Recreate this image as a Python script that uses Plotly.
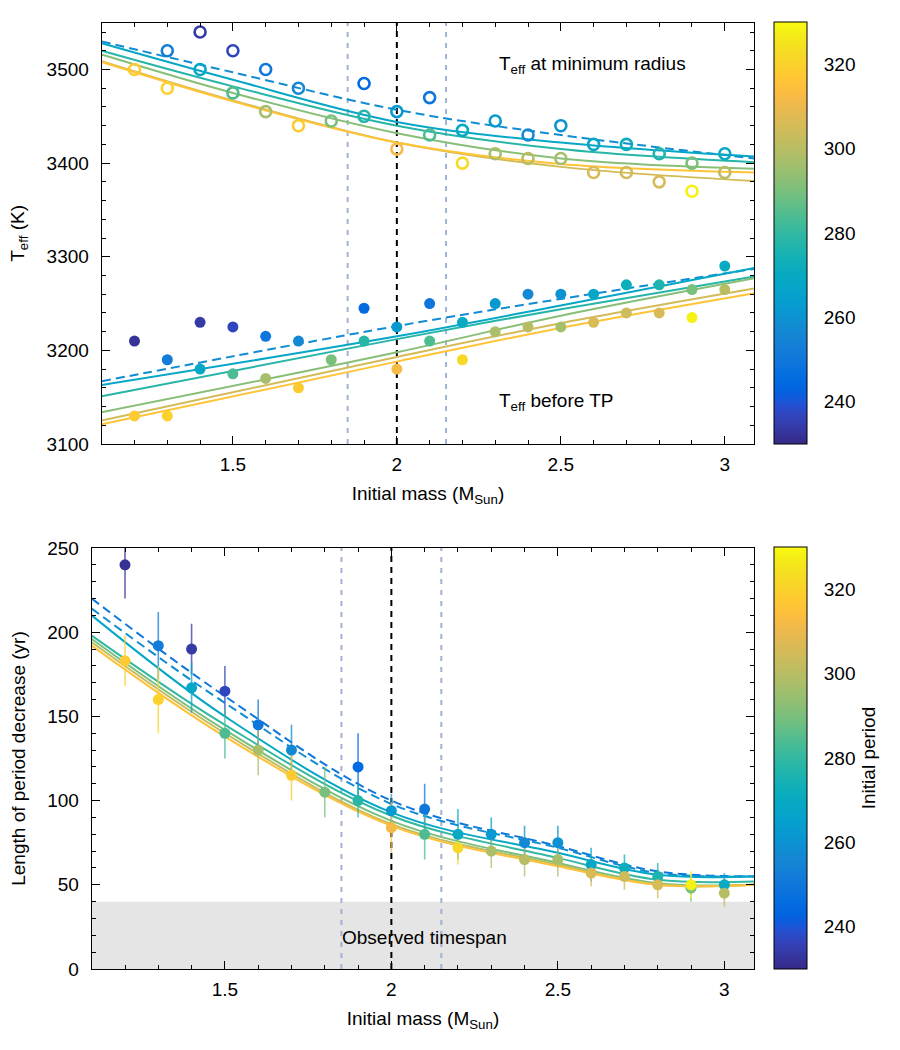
import plotly.graph_objects as go
from plotly.colors import sample_colorscale

# ---------------- data ----------------
mass = [1.2, 1.2, 1.3, 1.3, 1.4, 1.4, 1.5, 1.5, 1.6, 1.6, 1.7, 1.7, 1.8, 1.9, 1.9,
        2.0, 2.0, 2.1, 2.1, 2.2, 2.2, 2.3, 2.3, 2.4, 2.4, 2.5, 2.5, 2.6, 2.6,
        2.7, 2.7, 2.8, 2.8, 2.9, 2.9, 3.0, 3.0]
period = [232, 318, 252, 320, 234, 268, 237, 284, 250, 297, 257, 318, 290, 245, 278,
          262, 312, 250, 284, 270, 322, 262, 298, 257, 300, 260, 297, 268, 306,
          272, 304, 276, 306, 290, 328, 270, 300]
teff_min = [None, 3500, 3520, 3480, 3540, 3500, 3520, 3475, 3500, 3455, 3480, 3440, 3445,
            3485, 3450, 3455, 3415, 3470, 3430, 3435, 3400, 3445, 3410, 3430, 3405,
            3440, 3405, 3420, 3390, 3420, 3390, 3410, 3380, 3400, 3370, 3410, 3390]
teff_tp = [3210, 3130, 3190, 3130, 3230, 3180, 3225, 3175, 3215, 3170, 3210, 3160, 3190,
           3245, 3210, 3225, 3180, 3250, 3210, 3230, 3190, 3250, 3220, 3260, 3225,
           3260, 3225, 3260, 3230, 3270, 3240, 3270, 3240, 3265, 3235, 3290, 3265]
length = [240, 183, 192, 160, 190, 167, 165, 140, 145, 130, 130, 115, 105, 120, 100,
          94, 84, 95, 80, 80, 72, 80, 70, 75, 65, 75, 65, 62, 57, 60, 55, 55, 50,
          48, 50, 50, 45]
length_err = [20, 15, 20, 20, 15, 15, 15, 15, 15, 15, 15, 15, 15, 20, 10,
              10, 15, 15, 15, 15, 10, 10, 10, 10, 10, 10, 10, 10, 8, 8, 8, 8, 8,
              8, 8, 7, 8]

# fitted relations, read at a few masses
top_fit_mass = [1.1, 1.5, 2.0, 2.5, 3.09]
top_fit_period = [258, 268, 278, 292, 305, 316]
top_fit_dash = ["9px,5px", "solid", "solid", "solid", "solid", "solid"]
min_fit_teff = [
    [3530, 3497, 3457, 3430, 3405],
    [3528, 3489, 3444, 3422, 3407],
    [3520, 3482, 3440, 3415, 3401],
    [3516, 3475, 3432, 3405, 3394],
    [3509, 3467, 3422, 3396, 3381],
    [3508, 3466, 3422, 3399, 3390],
]
tp_fit_mass = [1.1, 2.0, 2.5, 3.09]
tp_fit_teff = [
    [3167, 3226, 3255, 3287],
    [3163, 3215, 3248, 3288],
    [3151, 3212, 3244, 3279],
    [3134, 3198, 3237, 3277],
    [3125, 3193, 3229, 3266],
    [3121, 3188, 3224, 3261],
]
len_fit_mass = [1.1, 1.5, 2.0, 2.5, 2.8, 3.09]
len_fit_period = [250, 258, 268, 280, 290, 302, 315]
len_fit_dash = ["9px,5px", "9px,5px", "solid", "solid", "solid", "solid", "solid"]
len_fit_years = [
    [220, 162, 100, 73, 58, 55],
    [214, 158, 98, 72, 57, 55],
    [210, 150, 93, 69, 56, 55],
    [198, 145, 91, 66, 53, 52],
    [196, 142, 88, 63, 51, 50],
    [194, 140, 86, 62, 50, 50],
    [192, 138, 85, 61, 50, 50],
]
cbar_ticks = [240, 260, 280, 300, 320]
pmin, pmax = 230, 330

parula_rgb = [
    [0.2081, 0.1663, 0.5292], [0.2116, 0.1898, 0.5777], [0.2123, 0.2138, 0.6270],
    [0.2081, 0.2386, 0.6771], [0.1959, 0.2645, 0.7279], [0.1707, 0.2919, 0.7792],
    [0.1253, 0.3242, 0.8303], [0.0591, 0.3598, 0.8683], [0.0117, 0.3875, 0.8820],
    [0.0060, 0.4086, 0.8828], [0.0165, 0.4266, 0.8786], [0.0329, 0.4430, 0.8720],
    [0.0498, 0.4586, 0.8641], [0.0629, 0.4737, 0.8554], [0.0723, 0.4887, 0.8467],
    [0.0779, 0.5040, 0.8384], [0.0793, 0.5200, 0.8312], [0.0749, 0.5375, 0.8263],
    [0.0641, 0.5570, 0.8240], [0.0488, 0.5772, 0.8228], [0.0343, 0.5966, 0.8199],
    [0.0265, 0.6137, 0.8135], [0.0239, 0.6287, 0.8038], [0.0231, 0.6418, 0.7913],
    [0.0228, 0.6535, 0.7768], [0.0267, 0.6642, 0.7607], [0.0384, 0.6743, 0.7436],
    [0.0590, 0.6838, 0.7254], [0.0843, 0.6928, 0.7062], [0.1133, 0.7015, 0.6859],
    [0.1453, 0.7098, 0.6646], [0.1801, 0.7177, 0.6424], [0.2178, 0.7250, 0.6193],
    [0.2586, 0.7317, 0.5954], [0.3022, 0.7376, 0.5712], [0.3482, 0.7424, 0.5473],
    [0.3953, 0.7459, 0.5244], [0.4420, 0.7481, 0.5033], [0.4871, 0.7491, 0.4840],
    [0.5300, 0.7491, 0.4661], [0.5709, 0.7485, 0.4494], [0.6099, 0.7473, 0.4337],
    [0.6473, 0.7456, 0.4188], [0.6834, 0.7435, 0.4044], [0.7184, 0.7411, 0.3905],
    [0.7525, 0.7384, 0.3768], [0.7858, 0.7356, 0.3633], [0.8185, 0.7327, 0.3498],
    [0.8507, 0.7299, 0.3360], [0.8824, 0.7274, 0.3217], [0.9139, 0.7258, 0.3063],
    [0.9450, 0.7261, 0.2886], [0.9739, 0.7314, 0.2666], [0.9938, 0.7455, 0.2403],
    [0.9990, 0.7653, 0.2164], [0.9955, 0.7861, 0.1967], [0.9880, 0.8066, 0.1794],
    [0.9789, 0.8271, 0.1633], [0.9697, 0.8481, 0.1475], [0.9626, 0.8705, 0.1309],
    [0.9589, 0.8949, 0.1132], [0.9598, 0.9218, 0.0948], [0.9661, 0.9514, 0.0755],
    [0.9763, 0.9831, 0.0538],
]
n = len(parula_rgb)
parula = [[i / (n - 1), "rgb(%d,%d,%d)" % tuple(round(255 * c) for c in rgb)]
          for i, rgb in enumerate(parula_rgb)]


def pcolor(p, alpha=None):
    c = sample_colorscale(parula, [(p - pmin) / (pmax - pmin)])[0]
    if alpha is None:
        return c
    return c.replace("rgb(", "rgba(").replace(")", ",%g)" % alpha)


FONT = "Liberation Sans, Arial, Helvetica, sans-serif"
fig = go.Figure()

# ---------------- top panel ----------------
for p, dash, ys in zip(top_fit_period, top_fit_dash, min_fit_teff):
    fig.add_trace(go.Scatter(x=top_fit_mass, y=ys, mode="lines", xaxis="x", yaxis="y",
                             line=dict(color=pcolor(p), width=2, dash=dash,
                                       shape="spline", smoothing=1.0),
                             showlegend=False, hoverinfo="skip"))
for p, dash, ys in zip(top_fit_period, top_fit_dash, tp_fit_teff):
    fig.add_trace(go.Scatter(x=tp_fit_mass, y=ys, mode="lines", xaxis="x", yaxis="y",
                             line=dict(color=pcolor(p), width=2, dash=dash,
                                       shape="spline", smoothing=1.0),
                             showlegend=False, hoverinfo="skip"))

fig.add_trace(go.Scatter(x=mass, y=teff_min, mode="markers", xaxis="x", yaxis="y",
                         marker=dict(symbol="circle-open", size=11, color=period,
                                     coloraxis="coloraxis", line=dict(width=2.6)),
                         showlegend=False))
fig.add_trace(go.Scatter(x=mass, y=teff_tp, mode="markers", xaxis="x", yaxis="y",
                         marker=dict(symbol="circle", size=11, color=period,
                                     coloraxis="coloraxis", line=dict(width=0)),
                         showlegend=False))

# ---------------- bottom panel ----------------
for p, dash, ys in zip(len_fit_period, len_fit_dash, len_fit_years):
    fig.add_trace(go.Scatter(x=len_fit_mass, y=ys, mode="lines", xaxis="x2", yaxis="y2",
                             line=dict(color=pcolor(p), width=2, dash=dash,
                                       shape="spline", smoothing=1.0),
                             showlegend=False, hoverinfo="skip"))
for m, v, e, p in zip(mass, length, length_err, period):
    fig.add_trace(go.Scatter(x=[m], y=[v], mode="markers", xaxis="x2", yaxis="y2",
                             marker=dict(size=1, color="rgba(0,0,0,0)"),
                             error_y=dict(type="data", array=[e], visible=True,
                                          color=pcolor(p, 0.75), thickness=1.6, width=0),
                             showlegend=False, hoverinfo="skip"))
fig.add_trace(go.Scatter(x=mass, y=length, mode="markers", xaxis="x2", yaxis="y2",
                         marker=dict(symbol="circle", size=11, color=period,
                                     coloraxis="coloraxis2", line=dict(width=0)),
                         showlegend=False))

# ---------------- layout ----------------
W, H = 900, 1050
top_y = [1 - 444 / H, 1 - 22.7 / H]
bot_y = [1 - 969 / H, 1 - 548 / H]
top_x = [101.7 / W, 754.3 / W]
bot_x = [91.7 / W, 754.3 / W]

tickfont = dict(family=FONT, size=19, color="black")


def xaxis(domain, anchor):
    return dict(domain=domain, anchor=anchor, range=[1.1, 3.09], tickmode="linear",
                tick0=0, dtick=0.5, ticks="inside", ticklen=8, tickwidth=1,
                tickcolor="black", showline=True, linecolor="black", linewidth=1,
                mirror="allticks", showgrid=False, zeroline=False, tickfont=tickfont,
                ticklabelstandoff=3, automargin=False,
                minor=dict(dtick=0.1, tick0=0, ticks="inside", ticklen=4,
                           tickcolor="black", showgrid=False),
                title=dict(text="Initial mass (M<sub>Sun</sub>)",
                           font=dict(family=FONT, size=19, color="black"), standoff=12))


def yaxis(domain, anchor, rng, dtick, minor, title):
    return dict(domain=domain, anchor=anchor, range=rng, tickmode="linear", tick0=0,
                dtick=dtick, ticks="inside", ticklen=8, tickwidth=1, tickcolor="black",
                showline=True, linecolor="black", linewidth=1, mirror="allticks",
                showgrid=False, zeroline=False, tickfont=tickfont, ticklabelstandoff=8,
                automargin=False,
                minor=dict(dtick=minor, tick0=0, ticks="inside", ticklen=4,
                           tickcolor="black", showgrid=False),
                title=dict(text=title, font=dict(family=FONT, size=19, color="black"),
                           standoff=16))


def cbar(ytop, title=None):
    d = dict(x=774 / W, xanchor="left", y=ytop, yanchor="top", len=(444 - 22) / H,
             lenmode="fraction", thickness=33, thicknessmode="pixels", xpad=0, ypad=0,
             outlinewidth=1, outlinecolor="black", tickmode="array", tickvals=cbar_ticks,
             ticks="outside", ticklen=13, tickcolor="rgba(0,0,0,0)",
             tickfont=tickfont)
    if title:
        d["title"] = dict(text=title, side="right",
                          font=dict(family=FONT, size=19, color="black"))
    return d


fig.update_layout(
    width=W, height=H, margin=dict(l=0, r=0, t=0, b=0, autoexpand=False),
    paper_bgcolor="white", plot_bgcolor="white",
    font=dict(family=FONT, size=19, color="black"),
    xaxis=xaxis(top_x, "y"),
    yaxis=yaxis(top_y, "x", [3100, 3550], 100, 20, "T<sub>eff</sub> (K)"),
    xaxis2=xaxis(bot_x, "y2"),
    yaxis2=yaxis(bot_y, "x2", [0, 250], 50, 10, "Length of period decrease (yr)"),
    coloraxis=dict(colorscale=parula, cmin=pmin, cmax=pmax, colorbar=cbar(1 - 22 / H)),
    coloraxis2=dict(colorscale=parula, cmin=pmin, cmax=pmax,
                    colorbar=cbar(1 - 547 / H, "Initial period")),
    showlegend=False,
)

# observed timespan band and vertical marker lines
fig.add_shape(type="rect", xref="x2 domain", yref="y2", x0=0, x1=1, y0=0, y1=40,
              fillcolor="#E5E5E5", line=dict(width=0), layer="below")
for xa, ya in (("x", "y"), ("x2", "y2")):
    for xv in (1.85, 2.15):
        fig.add_shape(type="line", xref=xa, yref=ya + " domain", x0=xv, x1=xv, y0=0, y1=1,
                      line=dict(color="#9FB3D4", width=2, dash="5px,6px"), layer="below")
    fig.add_shape(type="line", xref=xa, yref=ya + " domain", x0=2.0, x1=2.0, y0=0, y1=1,
                  line=dict(color="black", width=2, dash="6px,5px"), layer="below")

fig.add_annotation(x=2.305, y=3505, xref="x", yref="y", xanchor="left",
                   text="T<sub>eff</sub> at minimum radius", showarrow=False,
                   font=dict(family=FONT, size=19, color="black"))
fig.add_annotation(x=2.305, y=3145, xref="x", yref="y", xanchor="left",
                   text="T<sub>eff</sub> before TP", showarrow=False,
                   font=dict(family=FONT, size=19, color="black"))
fig.add_annotation(x=2.1, y=19, xref="x2", yref="y2", xanchor="center",
                   text="Observed timespan", showarrow=False,
                   font=dict(family=FONT, size=19, color="black"))

fig.write_html("out.html")
